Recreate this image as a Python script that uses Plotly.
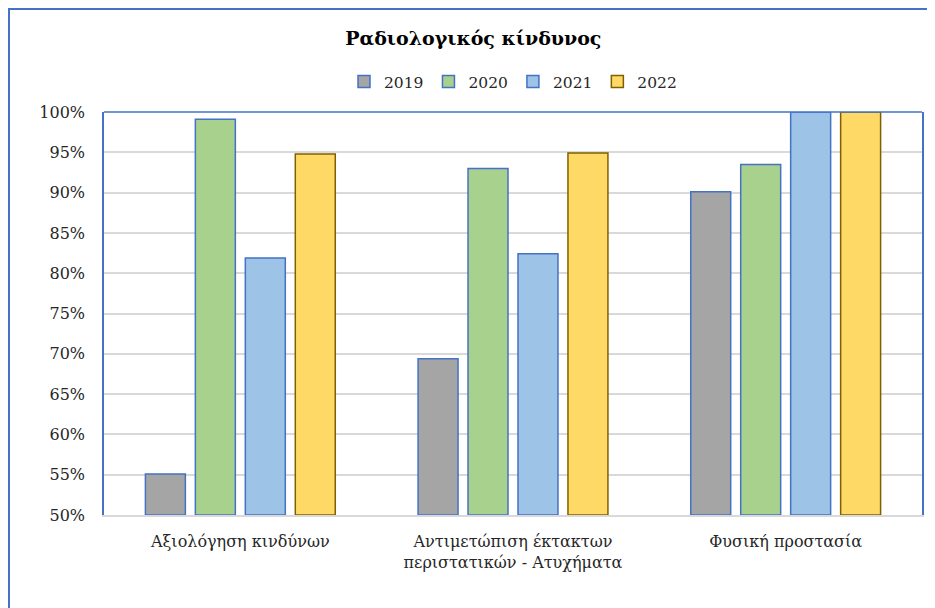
import plotly.graph_objects as go

categories = ["Αξιολόγηση κινδύνων",
              "Αντιμετώπιση έκτακτων<br>περιστατικών - Ατυχήματα",
              "Φυσική προστασία"]
years = ["2019", "2020", "2021", "2022"]
v2019 = [0.551, 0.694, 0.901]
v2020 = [0.991, 0.930, 0.935]
v2021 = [0.819, 0.824, 1.000]
v2022 = [0.948, 0.949, 1.000]
tick_vals = [0.50, 0.55, 0.60, 0.65, 0.70, 0.75, 0.80, 0.85, 0.90, 0.95, 1.00]
tick_text = ["50%", "55%", "60%", "65%", "70%", "75%", "80%", "85%", "90%", "95%", "100%"]

series = [v2019, v2020, v2021, v2022]
fills = ["#A5A5A5", "#A9D18E", "#9DC3E6", "#FFD966"]
lines = ["#4472C4", "#4472C4", "#4472C4", "#7F6000"]

FONT = "DejaVu Serif"
W, H = 927, 600
L, R, T, B = 96, 13, 104, 93
PW, PH = W - L - R, H - T - B

fig = go.Figure()
for name, vals, fc, lc in zip(years, series, fills, lines):
    fig.add_trace(go.Bar(
        x=categories, y=[v - 0.5 for v in vals], base=0.5, name=name,
        marker=dict(color=fc, line=dict(color=lc, width=1.5)),
    ))

fig.update_layout(
    width=W, height=H,
    margin=dict(l=L, r=R, t=T, b=B),
    paper_bgcolor="white", plot_bgcolor="white",
    barmode="group", bargap=0.267, bargroupgap=0.2,
    title=dict(text="<b>Ραδιολογικός κίνδυνος</b>", x=0.502, xref="container",
               y=1 - 30 / H, yref="container", xanchor="center", yanchor="middle",
               font=dict(family=FONT, size=19, color="black")),
    legend=dict(orientation="h", x=0.5, xanchor="center", y=1 + 30 / PH, yanchor="middle",
                font=dict(family=FONT, size=15.5, color="#262626"),
                itemwidth=30, traceorder="normal"),
    font=dict(family=FONT, size=16, color="#262626"),
    showlegend=True,
)
fig.update_xaxes(showline=True, linecolor="#D9D9D9", linewidth=1.5, ticks="",
                 ticklabelstandoff=11,
                 tickfont=dict(family=FONT, size=16, color="#262626"))
fig.update_yaxes(range=[0.5, 1.0], tickvals=tick_vals, ticktext=tick_text,
                 showgrid=True, gridcolor="#D9D9D9", gridwidth=1.5,
                 showline=True, linecolor="#4472C4", linewidth=1.5, mirror=True,
                 zeroline=False, ticks="", ticklabelstandoff=14,
                 tickfont=dict(family=FONT, size=16, color="#262626"))
# top border of plot area
fig.add_shape(type="line", xref="paper", yref="paper", x0=0, x1=1, y0=1, y1=1,
              line=dict(color="#4472C4", width=1.5))
# outer chart border
fig.add_shape(type="rect", xref="paper", yref="paper",
              x0=(1 - L) / PW, x1=1.2, y0=-0.5, y1=1 + (T - 1) / PH,
              line=dict(color="#4472C4", width=2), layer="below")

fig.write_html("out.html")
